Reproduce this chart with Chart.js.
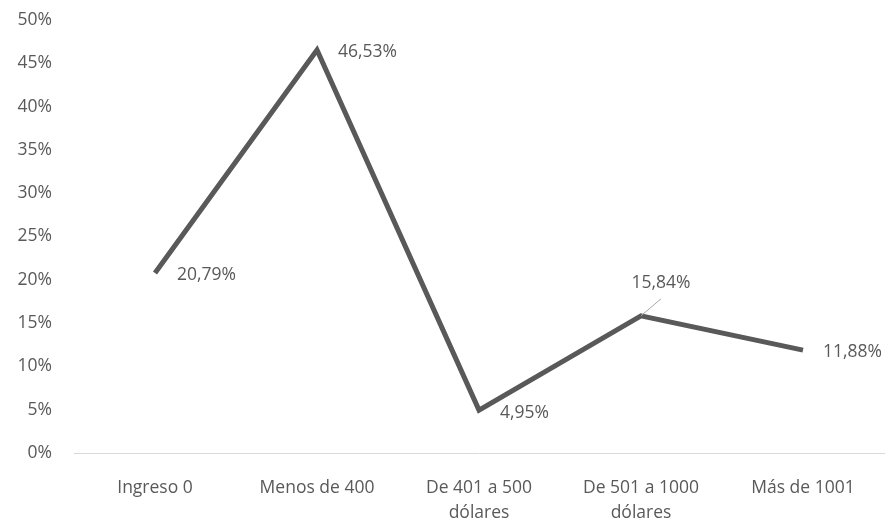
<!DOCTYPE html>
<html>
<head>
<meta charset="utf-8">
<script src="https://cdn.jsdelivr.net/npm/chart.js@4"></script>
<style>
  html, body { margin: 0; padding: 0; background: #fff; }
  #wrap { width: 895px; height: 521px; }
</style>
</head>
<body>
<div id="wrap"><canvas id="ingresoChart" width="895" height="521"></canvas></div>
<script>
  const categories = ['Ingreso 0', 'Menos de 400', ['De 401 a 500', 'dólares'], ['De 501 a 1000', 'dólares'], 'Más de 1001'];
  const percentages = [20.79, 46.53, 4.95, 15.84, 11.88];
  const valueLabels = ['20,79%', '46,53%', '4,95%', '15,84%', '11,88%'];
  const yTicks = [0, 5, 10, 15, 20, 25, 30, 35, 40, 45, 50];

  const textColor = '#595959';
  const fontFamily = "'Open Sans', 'Liberation Sans', sans-serif";

  // label offsets from each point (dx, dy, align); 4th label sits above with a leader line
  const labelPlace = [
    { dx: 22, dy: 2, align: 'left' },
    { dx: 21, dy: 2, align: 'left' },
    { dx: 21, dy: 3, align: 'left' },
    { dx: 20, dy: -33, align: 'center', leader: true },
    { dx: 20, dy: 2, align: 'left' }
  ];

  const dataLabels = {
    id: 'dataLabels',
    afterDatasetsDraw(chart) {
      const ctx = chart.ctx;
      const meta = chart.getDatasetMeta(0);
      ctx.save();
      ctx.font = '17.5px ' + fontFamily;
      ctx.fillStyle = textColor;
      ctx.textBaseline = 'middle';
      meta.data.forEach((pt, i) => {
        const p = labelPlace[i];
        if (p.leader) {
          ctx.strokeStyle = '#a6a6a6';
          ctx.lineWidth = 1;
          ctx.beginPath();
          ctx.moveTo(pt.x, pt.y);
          ctx.lineTo(pt.x + p.dx, pt.y + p.dy + 16);
          ctx.stroke();
        }
        ctx.textAlign = p.align;
        ctx.fillText(valueLabels[i], pt.x + p.dx, pt.y + p.dy);
      });
      ctx.restore();
    }
  };

  new Chart(document.getElementById('ingresoChart'), {
    type: 'line',
    data: {
      labels: categories,
      datasets: [{
        data: percentages,
        borderColor: '#595959',
        borderWidth: 5,
        pointRadius: 0,
        tension: 0,
        fill: false
      }]
    },
    options: {
      responsive: false,
      animation: false,
      layout: { padding: { top: 20, right: 11, left: 0, bottom: 0 } },
      plugins: {
        legend: { display: false },
        tooltip: { enabled: false }
      },
      scales: {
        x: {
          offset: true,
          grid: { display: false, drawTicks: false },
          border: { display: true, color: '#d9d9d9', width: 1 },
          ticks: {
            color: textColor,
            font: { size: 17.5, family: fontFamily, lineHeight: 1.45 },
            padding: 22,
            maxRotation: 0,
            autoSkip: false
          },
          afterFit(scale) { scale.height = 68; }
        },
        y: {
          min: 0,
          max: 50,
          grid: { display: false, drawTicks: false },
          border: { display: false },
          afterBuildTicks(scale) { scale.ticks = yTicks.map(v => ({ value: v })); },
          ticks: {
            color: textColor,
            font: { size: 17.5, family: fontFamily },
            padding: 22,
            callback: v => v + '%'
          },
          afterFit(scale) { scale.width = 74; scale.paddingTop = 0; scale.paddingBottom = 0; }
        }
      }
    },
    plugins: [dataLabels]
  });
</script>
</body>
</html>
